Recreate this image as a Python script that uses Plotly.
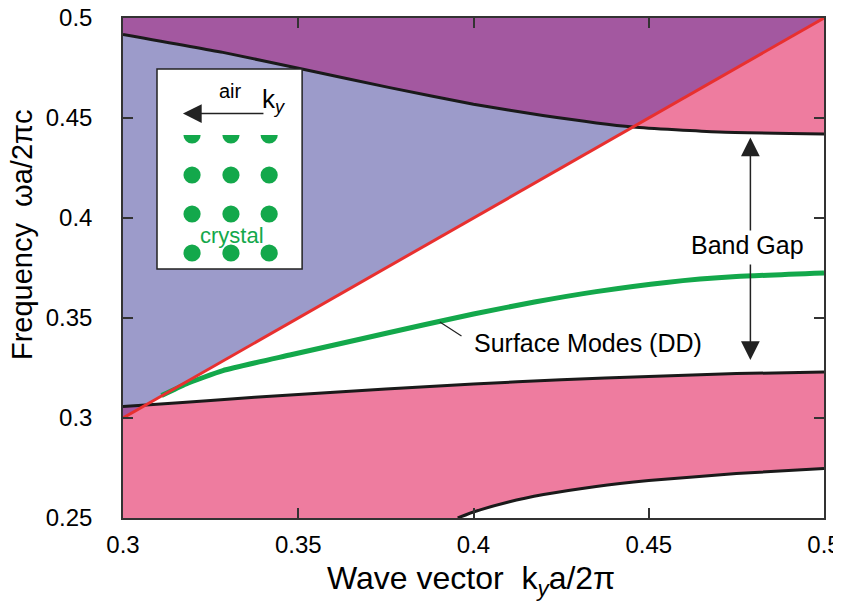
import plotly.graph_objects as go

# ---------------- data ----------------
# light line (omega = k)
light_k = [0.30, 0.50]
light_w = [0.30, 0.50]

# upper crystal band edge (bottom of 2nd band)
upper_k = [0.30, 0.3285, 0.3514, 0.3761, 0.40, 0.4198, 0.4455, 0.47, 0.50]
upper_w = [0.4918, 0.4828, 0.4744, 0.4652, 0.4569, 0.4513, 0.4455, 0.4430, 0.4420]
cross_idx = 6  # index where upper edge meets the light line

# top edge of 1st band
mid_k = [0.30, 0.3065, 0.325, 0.35, 0.375, 0.40, 0.425, 0.45, 0.475, 0.50]
mid_w = [0.3057, 0.3065, 0.3088, 0.3118, 0.3145, 0.3170, 0.3191, 0.3208, 0.3222, 0.3230]

# bottom edge of 1st band
low_k = [0.3955, 0.40, 0.41, 0.42, 0.435, 0.45, 0.475, 0.50]
low_w = [0.2500, 0.2530, 0.2580, 0.2617, 0.2658, 0.2687, 0.2722, 0.2748]

# surface mode (DD)
surf_k = [0.311, 0.318, 0.3285, 0.3476, 0.3666, 0.3856, 0.40, 0.4174, 0.435, 0.455, 0.475, 0.50]
surf_w = [0.3112, 0.3170, 0.3237, 0.3315, 0.3390, 0.3465, 0.3520, 0.3580, 0.3632, 0.3678, 0.3707, 0.3725]

x_ticks = [0.3, 0.35, 0.4, 0.45, 0.5]
x_tick_labels = ["0.3", "0.35", "0.4", "0.45", "0.5"]
y_ticks = [0.25, 0.3, 0.35, 0.4, 0.45, 0.5]
y_tick_labels = ["0.25", "0.3", "0.35", "0.4", "0.45", "0.5"]

# inset lattice (dot centres)
dot_cols = [0.3197, 0.3308, 0.3417]
dot_rows = [0.4415, 0.4215, 0.402, 0.3825]

LAV = "#9C9BCA"
PURP = "#A358A0"
PINK = "#EE7C9F"
RED = "#E8302F"
GREEN = "#13A84B"
FONT = "Liberation Sans"

fig = go.Figure()

def poly(xs, ys, color):
    fig.add_trace(go.Scatter(x=xs, y=ys, fill="toself", fillcolor=color,
                             mode="lines", line=dict(width=0, color=color),
                             hoverinfo="skip", showlegend=False))

# light cone (air modes)
poly([light_k[0], light_k[1], light_k[0]], [light_w[0], light_w[1], 0.5], LAV)
# 2nd crystal band
poly(upper_k + [0.5, 0.3], upper_w + [0.5, 0.5], PINK)
# overlap of 2nd band and light cone
poly(upper_k[:cross_idx + 1] + [light_k[1], 0.3],
     upper_w[:cross_idx + 1] + [light_w[1], 0.5], PURP)
# 1st crystal band
poly(mid_k + low_k[::-1] + [0.3], mid_w + low_w[::-1] + [0.25], PINK)
# overlap of 1st band and light cone (tiny triangle)
poly([light_k[0], mid_k[1], mid_k[0]], [light_w[0], mid_w[1], mid_w[0]], PURP)

def curve(xs, ys, color, width):
    fig.add_trace(go.Scatter(x=xs, y=ys, mode="lines",
                             line=dict(color=color, width=width, shape="spline", smoothing=0.5),
                             hoverinfo="skip", showlegend=False))

curve(upper_k, upper_w, "#1a1a1a", 3)
curve(mid_k, mid_w, "#1a1a1a", 3)
curve(low_k, low_w, "#1a1a1a", 3)
curve(surf_k, surf_w, GREEN, 5)
fig.add_trace(go.Scatter(x=light_k, y=light_w, mode="lines",
                         line=dict(color=RED, width=3),
                         hoverinfo="skip", showlegend=False))

# ---------------- inset ----------------
shapes = []
shapes.append(dict(type="rect", xref="x", yref="y", x0=0.3097, x1=0.3511, y0=0.3745, y1=0.4745,
                   fillcolor="white", line=dict(color="#222", width=1.5), layer="above"))
rx, ry = 0.00245, 0.0043
for cx in dot_cols:
    for cy in dot_rows:
        shapes.append(dict(type="circle", xref="x", yref="y", x0=cx - rx, x1=cx + rx,
                           y0=cy - ry, y1=cy + ry, fillcolor=GREEN, line=dict(width=0),
                           layer="above"))
# mask top half of first row (cut-off surface dots)
shapes.append(dict(type="rect", xref="x", yref="y", x0=0.3155, x1=0.346,
                   y0=dot_rows[0], y1=dot_rows[0] + 0.006,
                   fillcolor="white", line=dict(width=0), layer="above"))

annotations = []
# inset arrow (k_y direction)
annotations.append(dict(x=0.3171, y=0.4522, ax=0.3405, ay=0.4522, xref="x", yref="y",
                        axref="x", ayref="y", text="", showarrow=True, arrowhead=2,
                        arrowsize=2.5, arrowwidth=1.5, arrowcolor="#222"))
annotations.append(dict(x=0.3307, y=0.4635, xref="x", yref="y", text="air", showarrow=False,
                        font=dict(family=FONT, size=20, color="black")))
annotations.append(dict(x=0.3432, y=0.4590, xref="x", yref="y",
                        text="k<sub><i>y</i></sub>", showarrow=False,
                        font=dict(family=FONT, size=26, color="black")))
annotations.append(dict(x=0.3311, y=0.3915, xref="x", yref="y", text="crystal", showarrow=False,
                        font=dict(family=FONT, size=22, color=GREEN)))

# band gap arrows
annotations.append(dict(x=0.479, y=0.4402, ax=0.479, ay=0.393, xref="x", yref="y",
                        axref="x", ayref="y", text="", showarrow=True, arrowhead=2,
                        arrowsize=2.5, arrowwidth=1.5, arrowcolor="#222"))
annotations.append(dict(x=0.479, y=0.329, ax=0.479, ay=0.3775, xref="x", yref="y",
                        axref="x", ayref="y", text="", showarrow=True, arrowhead=2,
                        arrowsize=2.5, arrowwidth=1.5, arrowcolor="#222"))
annotations.append(dict(x=0.4783, y=0.3865, xref="x", yref="y", text="Band Gap", showarrow=False,
                        font=dict(family=FONT, size=25, color="black")))

# surface modes label
annotations.append(dict(x=0.3904, y=0.348, ax=0.397, ay=0.3405, xref="x", yref="y",
                        axref="x", ayref="y", text="", showarrow=True, arrowhead=0,
                        arrowwidth=1.2, arrowcolor="#222"))
annotations.append(dict(x=0.4328, y=0.3375, xref="x", yref="y", text="Surface Modes (DD)",
                        showarrow=False, font=dict(family=FONT, size=25, color="black")))

# axis titles
annotations.append(dict(x=0.4964, y=-0.124, xref="paper", yref="paper",
                        xanchor="center", yanchor="middle",
                        text="Wave vector  k<sub><i>y</i></sub>a/2π", showarrow=False,
                        font=dict(family=FONT, size=32, color="black")))
annotations.append(dict(x=-0.144, y=0.566, xref="paper", yref="paper",
                        xanchor="center", yanchor="middle",
                        text="Frequency  ωa/2πc", textangle=-90, showarrow=False,
                        font=dict(family=FONT, size=29, color="black")))

axis_common = dict(showgrid=False, zeroline=False, showline=True, mirror="ticks",
                   linecolor="#333", linewidth=1.5, ticks="inside", ticklen=10,
                   tickwidth=1.5, tickcolor="#333", automargin=False,
                   ticklabeloverflow="allow",
                   tickfont=dict(family=FONT, size=24, color="black"))

# the page body adds an 8 px margin, so the figure is sized/offset to compensate
fig.update_layout(
    width=833, height=604,
    margin=dict(l=115, r=17, t=10, b=94),
    plot_bgcolor="white", paper_bgcolor="white",
    xaxis=dict(range=[0.3, 0.5], tickvals=x_ticks, ticktext=x_tick_labels,
               ticklabelstandoff=4, **axis_common),
    yaxis=dict(range=[0.25, 0.5], tickvals=y_ticks, ticktext=y_tick_labels,
               ticklabelstandoff=24, **axis_common),
    shapes=shapes, annotations=annotations,
)

fig.write_html("out.html")
